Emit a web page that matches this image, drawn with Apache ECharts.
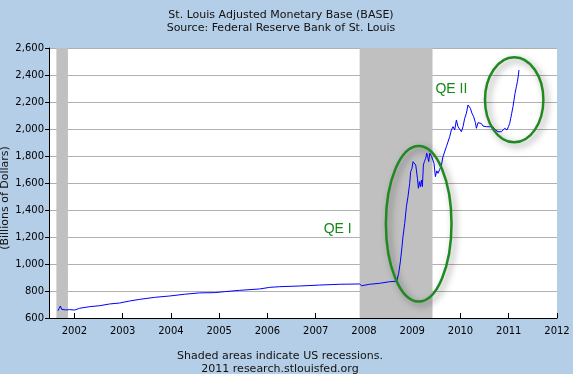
<!DOCTYPE html>
<html><head><meta charset="utf-8">
<script src="https://cdn.jsdelivr.net/npm/echarts@6/dist/echarts.min.js"></script>
<style>html,body{margin:0;padding:0;background:#b4cee8;}#c{width:573px;height:374px;}</style>
</head><body><div id="c"></div>
<script>
// Decimal-year dates and values (billions of dollars)
const dates = [2001.658,2001.708,2001.735,2001.818,2001.900,2002.004,2002.108,2002.315,2002.522,2002.730,2002.937,2003.144,2003.351,2003.662,2003.973,2004.284,2004.595,2004.906,2005.113,2005.424,2005.838,2006.046,2006.253,2006.668,2007.082,2007.497,2007.911,2007.953,2008.118,2008.325,2008.533,2008.678,2008.719,2008.754,2008.788,2008.808,2008.844,2008.879,2008.912,2008.947,2008.968,2008.995,2009.016,2009.045,2009.072,2009.086,2009.107,2009.128,2009.148,2009.169,2009.190,2009.210,2009.231,2009.252,2009.279,2009.300,2009.320,2009.341,2009.362,2009.383,2009.403,2009.430,2009.451,2009.480,2009.508,2009.534,2009.569,2009.604,2009.637,2009.708,2009.776,2009.811,2009.845,2009.880,2009.915,2009.948,2009.983,2010.019,2010.052,2010.087,2010.122,2010.155,2010.176,2010.205,2010.238,2010.273,2010.309,2010.330,2010.363,2010.398,2010.433,2010.466,2010.502,2010.537,2010.570,2010.605,2010.640,2010.674,2010.709,2010.744,2010.777,2010.812,2010.848,2010.881,2010.916,2010.937,2010.964,2010.993,2011.020,2011.041,2011.061,2011.088,2011.109,2011.130,2011.158,2011.179,2011.200,2011.212];
const baseValues = [654,689,664,660,662,659,672,684,691,704,711,726,738,753,763,776,786,788,795,805,815,827,832,837,844,850,852,839,850,857,869,872,931,1017,1128,1202,1301,1424,1499,1598,1684,1709,1758,1765,1733,1696,1635,1561,1610,1573,1622,1573,1733,1758,1783,1820,1795,1758,1820,1815,1795,1807,1746,1647,1690,1672,1700,1730,1795,1869,1943,1993,2017,1993,2067,2017,2025,1980,2017,2079,2116,2178,2183,2153,2116,2091,2047,2005,2047,2035,2040,2022,2030,2017,2030,2017,2005,2017,1998,1993,1980,1993,1980,1993,2005,2017,1993,2017,2042,2079,2116,2165,2215,2264,2313,2350,2400,2437];
const yearTicks = [2002,2003,2004,2005,2006,2007,2008,2009,2010,2011,2012];
const recessionStarts = [2001.625, 2007.91];
const recessionEnds = [2001.865, 2009.42];
const annotLabels = ['QE I', 'QE II'];
const annotLabelPos = [[2007.165, 1260], [2009.48, 2297]];
const ellipseCenters = [[2009.134, 1298], [2011.113, 2216]];
const ellipseRadii = [[0.68, 576], [0.605, 315]];

const chart = echarts.init(document.getElementById('c'), null, {renderer:'canvas'});
const FONT = 'DejaVu Sans, Verdana, sans-serif';
const option = {
  backgroundColor: '#b4cee8',
  animation: false,
  grid: {left: 49, right: 16, top: 48, bottom: 56, show: true, backgroundColor: '#ffffff', borderWidth: 0, containLabel: false},
  xAxis: {
    type: 'value', min: 2001.472, max: 2012,
    axisLine: {show: true, onZero: false, lineStyle: {color: '#000', width: 1}},
    axisTick: {show: true, inside: true, length: 5, lineStyle: {color: '#000'}, customValues: yearTicks},
    axisLabel: {color: '#000', fontFamily: FONT, fontSize: 10, margin: 8, customValues: yearTicks, formatter: v => String(Math.round(v))},
    splitLine: {show: false}
  },
  yAxis: {
    type: 'value', min: 600, max: 2600, interval: 200,
    axisLine: {show: true, lineStyle: {color: '#000', width: 1}},
    axisTick: {show: true, inside: false, length: 4, lineStyle: {color: '#000'}},
    axisLabel: {color: '#000', fontFamily: FONT, fontSize: 10, margin: 5, formatter: v => v.toLocaleString('en-US')},
    splitLine: {show: true, lineStyle: {color: '#b0b0b0', width: 1}}
  },
  series: [{
    type: 'line', data: dates.map((d, i) => [d, baseValues[i]]),
    showSymbol: false, symbol: 'none',
    lineStyle: {color: '#0000ff', width: 1},
    markArea: {silent: true, itemStyle: {color: '#c0c0c0'},
      data: recessionStarts.map((s, i) => [{xAxis: s}, {xAxis: recessionEnds[i]}])},
    z: 3
  }]
};
chart.setOption(option);

const graphics = [];
ellipseCenters.forEach((c, i) => {
  const p = chart.convertToPixel({gridIndex: 0}, c);
  const q = chart.convertToPixel({gridIndex: 0}, [c[0] + ellipseRadii[i][0], c[1] + ellipseRadii[i][1]]);
  graphics.push({type: 'ellipse', z: 10,
    shape: {cx: p[0], cy: p[1], rx: Math.abs(q[0] - p[0]), ry: Math.abs(p[1] - q[1])},
    style: {fill: null, stroke: '#1f8a1f', lineWidth: 2.5, shadowBlur: 7, shadowColor: 'rgba(0,0,0,0.45)', shadowOffsetX: 3, shadowOffsetY: 3}});
});
annotLabels.forEach((t, i) => {
  const p = chart.convertToPixel({gridIndex: 0}, annotLabelPos[i]);
  graphics.push({type: 'text', z: 11, x: p[0], y: p[1],
    style: {text: t, fill: '#138a13', font: '14px "Liberation Sans", Arial, sans-serif', textVerticalAlign: 'middle', textAlign: 'left'}});
});
graphics.push({type: 'text', x: 281, y: 15, style: {text: 'St. Louis Adjusted Monetary Base (BASE)', fill: '#111', font: '11px ' + FONT, textAlign: 'center', textVerticalAlign: 'middle'}});
graphics.push({type: 'text', x: 281, y: 28, style: {text: 'Source: Federal Reserve Bank of St. Louis', fill: '#111', font: '11px ' + FONT, textAlign: 'center', textVerticalAlign: 'middle'}});
graphics.push({type: 'text', x: 280, y: 356, style: {text: 'Shaded areas indicate US recessions.', fill: '#111', font: '11px ' + FONT, textAlign: 'center', textVerticalAlign: 'middle'}});
graphics.push({type: 'text', x: 280, y: 369, style: {text: '2011 research.stlouisfed.org', fill: '#111', font: '11px ' + FONT, textAlign: 'center', textVerticalAlign: 'middle'}});
graphics.push({type: 'text', x: 5, y: 198, rotation: Math.PI / 2, style: {text: '(Billions of Dollars)', fill: '#111', font: '11px ' + FONT, textAlign: 'center', textVerticalAlign: 'middle'}});
chart.setOption({graphic: graphics});
</script>
</body></html>
